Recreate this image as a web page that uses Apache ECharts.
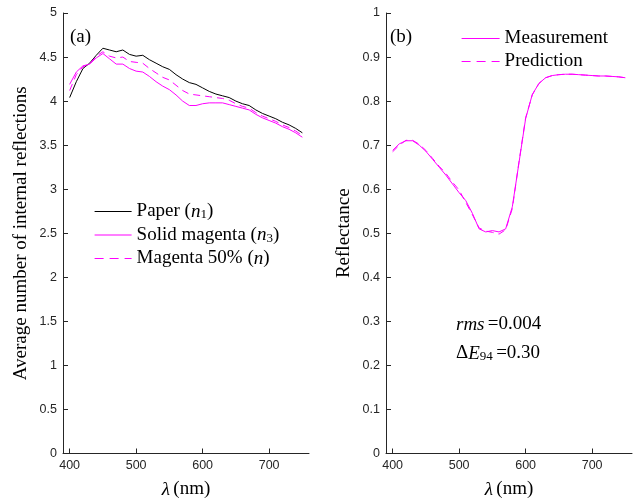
<!DOCTYPE html>
<html>
<head>
<meta charset="utf-8">
<script src="https://cdn.jsdelivr.net/npm/echarts@6/dist/echarts.min.js"></script>
<style>
  html, body {margin: 0; padding: 0; background: #fff;}
  #chart {width: 634px; height: 504px;}
</style>
</head>
<body>
<div id="chart"></div>
<script>
// wavelength grid (nm)
const wavelengths = [400, 410, 420, 430, 440, 450, 460, 470, 480, 490, 500, 510, 520, 530, 540, 550, 560, 570,
    580, 590, 600, 610, 620, 630, 640, 650, 660, 670, 680, 690, 700, 710, 720, 730, 740, 750];

// (a) average number of internal reflections
const paperN1 = [4.04, 4.22, 4.37, 4.43, 4.52, 4.60, 4.58, 4.56, 4.58, 4.53, 4.51, 4.52, 4.47, 4.43, 4.39, 4.36, 4.30, 4.25,
    4.21, 4.19, 4.15, 4.11, 4.08, 4.06, 4.04, 4.00, 3.97, 3.95, 3.90, 3.86, 3.83, 3.80, 3.76, 3.73, 3.69, 3.64];
const solidMagentaN3 = [4.19, 4.33, 4.40, 4.42, 4.49, 4.54, 4.48, 4.42, 4.42, 4.37, 4.34, 4.33, 4.28, 4.22, 4.17, 4.13, 4.07, 4.00,
    3.95, 3.95, 3.97, 3.98, 3.98, 3.98, 3.96, 3.94, 3.92, 3.90, 3.85, 3.81, 3.78, 3.75, 3.71, 3.68, 3.64, 3.59];
const magenta50N = [4.12, 4.30, 4.39, 4.42, 4.51, 4.56, 4.51, 4.49, 4.50, 4.45, 4.44, 4.43, 4.37, 4.32, 4.27, 4.24, 4.18, 4.12,
    4.08, 4.07, 4.06, 4.05, 4.04, 4.03, 4.01, 3.97, 3.94, 3.92, 3.87, 3.83, 3.80, 3.77, 3.73, 3.70, 3.66, 3.61];

// (b) reflectance
const measurement = [0.688, 0.703, 0.710, 0.710, 0.700, 0.686, 0.668, 0.650, 0.632, 0.612, 0.592, 0.574, 0.545, 0.510, 0.503, 0.506, 0.503, 0.510,
    0.560, 0.660, 0.760, 0.815, 0.840, 0.853, 0.858, 0.860, 0.861, 0.861, 0.860, 0.859, 0.858, 0.857, 0.857, 0.856, 0.855, 0.853];
const prediction = [0.685, 0.700, 0.711, 0.711, 0.702, 0.688, 0.670, 0.652, 0.636, 0.616, 0.598, 0.570, 0.542, 0.512, 0.505, 0.502, 0.498, 0.508,
    0.556, 0.662, 0.762, 0.814, 0.840, 0.853, 0.858, 0.860, 0.861, 0.861, 0.860, 0.859, 0.858, 0.857, 0.857, 0.856, 0.855, 0.853];

// tick labels
const xTicks = [400, 500, 600, 700];

const serif = '"Liberation Serif", "Times New Roman", serif';
const sans = '"Liberation Sans", Arial, sans-serif';
const axisColor = '#262626';
const magenta = '#ff00ff';

const pairs = arr => wavelengths.map((w, i) => [w, arr[i]]);

const mathRich = {
    n: {fontFamily: serif, fontSize: 19, color: '#000', lineHeight: 20, verticalAlign: 'middle'},
    it: {fontFamily: serif, fontSize: 19, fontStyle: 'italic', color: '#000', lineHeight: 20, verticalAlign: 'middle'},
    sub: {fontFamily: serif, fontSize: 13, fontStyle: 'normal', color: '#000', lineHeight: 12, verticalAlign: 'bottom'}
};

const legendText = {
    'Paper': '{n|Paper (}{it|n}{sub|1}{n|)}',
    'Solid magenta': '{n|Solid magenta (}{it|n}{sub|3}{n|)}',
    'Magenta 50%': '{n|Magenta 50% (}{it|n}{n|)}',
    'Measurement': '{n|Measurement}',
    'Prediction': '{n|Prediction}'
};

function xAxisFor(gridIndex) {
    return {
        type: 'value', gridIndex: gridIndex, min: 390, max: 760,
        name: '{it|λ} {n|(nm)}', nameLocation: 'middle', nameGap: 26,
        nameTextStyle: {rich: mathRich},
        axisLine: {lineStyle: {color: axisColor, width: 1}},
        axisTick: {inside: true, length: 5, customValues: xTicks, lineStyle: {color: axisColor}},
        axisLabel: {customValues: xTicks, margin: 6, color: axisColor, fontFamily: sans, fontSize: 12.5},
        splitLine: {show: false}
    };
}

function yAxisFor(gridIndex, max, interval, label, gap) {
    return {
        type: 'value', gridIndex: gridIndex, min: 0, max: max, interval: interval,
        name: label, nameLocation: 'middle', nameGap: gap,
        nameTextStyle: {fontFamily: serif, fontSize: 19, color: '#000'},
        axisLine: {show: true, lineStyle: {color: axisColor, width: 1}},
        axisTick: {show: true, inside: true, length: 5, lineStyle: {color: axisColor}},
        axisLabel: {margin: 6, color: axisColor, fontFamily: sans, fontSize: 12.5},
        splitLine: {show: false}
    };
}

function lineSeries(name, data, color, dashed, axisIndex) {
    return {
        name: name, type: 'line', data: pairs(data),
        xAxisIndex: axisIndex, yAxisIndex: axisIndex,
        symbol: 'none', silent: true, animation: false,
        lineStyle: {color: color, width: 1, type: dashed ? [7, 5] : 'solid'},
        itemStyle: {color: color}
    };
}

// legend entries: name + line look
const legendItem = (name, color, dashed) => ({
    name: name,
    itemStyle: {opacity: 0},
    lineStyle: {color: color, width: 1.2, opacity: 1, type: dashed ? [9, 6] : 'solid'}
});

const chart = echarts.init(document.getElementById('chart'), null, {renderer: 'canvas'});
chart.setOption({
    animation: false,
    backgroundColor: '#fff',
    grid: [
        {left: 63, top: 13, width: 246, height: 445, containLabel: false},
        {left: 386, top: 13, width: 246, height: 445, containLabel: false}
    ],
    xAxis: [xAxisFor(0), xAxisFor(1)],
    yAxis: [
        yAxisFor(0, 5, 0.5, 'Average number of internal reflections', 32),
        yAxisFor(1, 1, 0.1, 'Reflectance', 32)
    ],
    legend: [
        {
            data: [legendItem('Paper', '#000', false), legendItem('Solid magenta', magenta, false),
                legendItem('Magenta 50%', magenta, true)],
            left: 94, top: 202, orient: 'vertical', padding: 0,
            itemWidth: 37, itemHeight: 14, itemGap: 4,
            formatter: name => legendText[name],
            textStyle: {rich: mathRich},
            selectedMode: false
        },
        {
            data: [legendItem('Measurement', magenta, false), legendItem('Prediction', magenta, true)],
            left: 461, top: 29, orient: 'vertical', padding: 0,
            itemWidth: 38, itemHeight: 14, itemGap: 4,
            formatter: name => legendText[name],
            textStyle: {rich: mathRich},
            selectedMode: false
        }
    ],
    graphic: [
        {type: 'text', left: 70, top: 28, style: {text: '(a)', font: '19px ' + serif, fill: '#000'}},
        {type: 'text', left: 390, top: 28, style: {text: '(b)', font: '19px ' + serif, fill: '#000'}},
        {type: 'text', left: 456, top: 315, style: {text: '{it|rms} {n|=0.004}', rich: mathRich}},
        {type: 'text', left: 456, top: 344, style: {text: '{n|Δ}{it|E}{sub|94} {n|=0.30}', rich: mathRich}}
    ],
    series: [
        lineSeries('Paper', paperN1, '#000', false, 0),
        lineSeries('Solid magenta', solidMagentaN3, magenta, false, 0),
        lineSeries('Magenta 50%', magenta50N, magenta, true, 0),
        lineSeries('Measurement', measurement, magenta, false, 1),
        lineSeries('Prediction', prediction, magenta, true, 1)
    ]
});
</script>
</body>
</html>
